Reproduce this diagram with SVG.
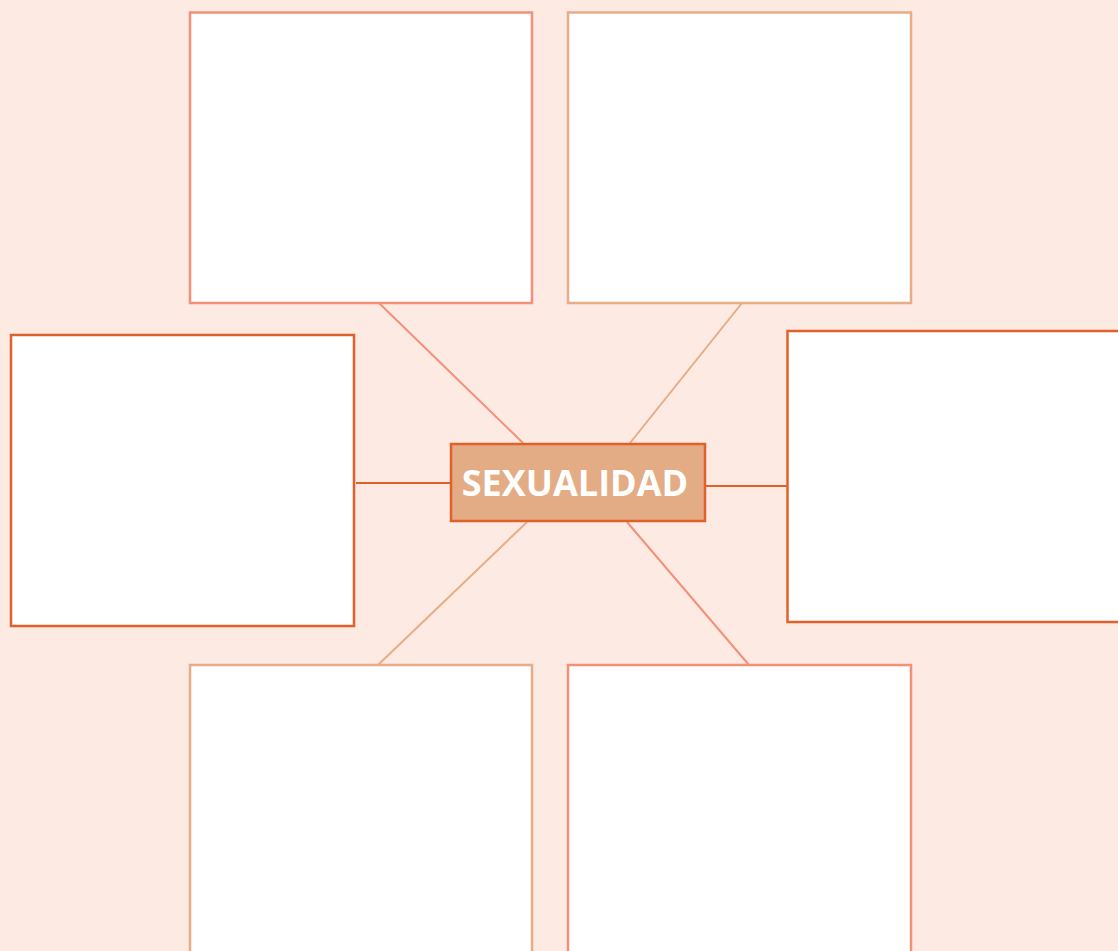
<svg xmlns="http://www.w3.org/2000/svg" width="1118" height="951" viewBox="0 0 1118 951">
<style>
.box{fill:#FFFFFF;stroke-width:2.5}
.s{stroke:#F4907A}
.t{stroke:#E6AD86}
.d{stroke:#E0622A}
.c{fill:none;stroke-width:2}
.lbl{font-family:"Open Sans","Noto Sans",sans-serif;font-weight:bold;font-size:36px;fill:#FFFFFF}
</style>
<rect width="1118" height="951" fill="#FDEAE3"/>
<g id="connectors">
<line class="c s" x1="379" y1="303" x2="523" y2="443"/>
<line class="c t" x1="742" y1="303" x2="630" y2="443"/>
<line class="c d" x1="356" y1="483" x2="450" y2="483"/>
<line class="c d" x1="705" y1="486" x2="787" y2="486"/>
<line class="c t" x1="527" y1="522" x2="378" y2="665"/>
<line class="c s" x1="627" y1="522" x2="749" y2="665"/>
</g>
<g id="node-top-left"><rect class="box s" x="190" y="12.5" width="342" height="290.5"/></g>
<g id="node-top-right"><rect class="box t" x="568" y="12.5" width="343" height="290.5"/></g>
<g id="node-left"><rect class="box d" x="11" y="335" width="343" height="291"/></g>
<g id="node-right"><rect class="box d" x="787.5" y="331" width="340" height="291"/></g>
<g id="node-bottom-left"><rect class="box t" x="190" y="665" width="342" height="300"/></g>
<g id="node-bottom-right"><rect class="box s" x="568" y="665" width="343" height="300"/></g>
<g id="node-center">
<rect x="451" y="444" width="254" height="77" fill="#E4AC85" stroke="#E0622A" stroke-width="2.5"/>
<text class="lbl" x="575" y="496" text-anchor="middle">SEXUALIDAD</text>
</g>
</svg>
